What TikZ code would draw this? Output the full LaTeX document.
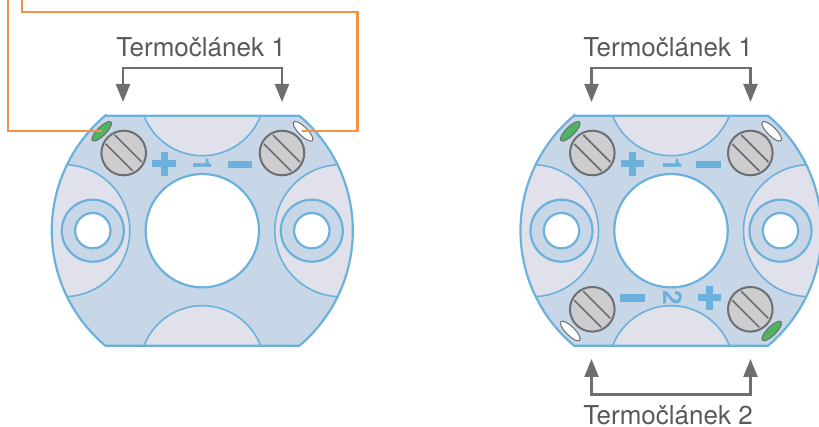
\documentclass[tikz,border=0pt]{standalone}
\usepackage{fontspec}
\setmainfont{TeX Gyre Heros}
\usetikzlibrary{arrows.meta}
\definecolor{modra}{RGB}{108,176,220}
\definecolor{deska}{RGB}{199,215,232}
\definecolor{vyrez}{RGB}{224,225,234}
\definecolor{sroub}{RGB}{205,205,207}
\definecolor{seda}{RGB}{109,110,113}
\definecolor{popis}{RGB}{88,89,91}
\definecolor{oranz}{RGB}{243,146,72}
\definecolor{zelena}{RGB}{77,181,96}
\tikzset{
  obrys/.style={draw=modra, line width=2.2pt},
  tenky/.style={draw=modra, line width=1.6pt},
  vodic/.style={draw=oranz, line width=2.4pt},
  sipka/.style={draw=seda, line width=2.4pt, {Triangle[length=18pt,width=14pt]}-{Triangle[length=18pt,width=14pt]}},
  popisek/.style={text=popis, font=\fontsize{26}{28}\selectfont, inner sep=0pt},
  znak/.style={text=modra, font=\fontsize{26}{28}\selectfont\bfseries, inner sep=0pt, rotate=-90},
  barznak/.style={fill=modra, draw=none},
  otvor/.style={draw=seda, line width=1pt},
  pics/deska/.style={code={
    \begin{scope}
      \clip (-97,-115) -- (97,-115) arc[start angle=-49.9,end angle=49.9,radius=150.4]
        -- (-97,115) arc[start angle=130.1,end angle=229.9,radius=150.4] -- cycle;
      \fill[deska] (-160,-160) rectangle (160,160);
      % vyrezy
      \draw[tenky, fill=vyrez] (0,-137.5) circle[radius=62.5];
      \draw[tenky, fill=vyrez] (0,137.5) circle[radius=62.5];
      \draw[tenky, fill=vyrez] (-138.5,0) circle[radius=66];
      \draw[tenky, fill=vyrez] (138.5,0) circle[radius=66];
    \end{scope}
    \draw[obrys] (-97,-115) -- (97,-115) arc[start angle=-49.9,end angle=49.9,radius=150.4]
      -- (-97,115) arc[start angle=130.1,end angle=229.9,radius=150.4] -- cycle;
    \draw[obrys, fill=white] (0,0) circle[radius=56.7];
    \foreach \x in {-109.5,109.5} {
      \draw[obrys, fill=deska] (\x,0) circle[radius=31];
      \draw[obrys, fill=white] (\x,0) circle[radius=17.7];
    }
  }},
  pics/sroub/.style={code={
    \draw[seda, line width=2pt, fill=sroub] (0,0) circle[radius=22.3];
    \draw[seda, line width=1.7pt] (-18,-9) -- (9,18);
    \draw[seda, line width=1.7pt] (-9,-18) -- (18,9);
  }},
  pics/plus/.style={code={
    \fill[barznak] (-11.7,-3.5) rectangle (11.7,3.5);
    \fill[barznak] (-3.5,-11.7) rectangle (3.5,11.7);
  }},
  pics/minus/.style={code={
    \fill[barznak] (-12.2,-3.8) rectangle (12.2,3.8);
  }},
}
\begin{document}
\begin{tikzpicture}[x=1pt,y=-1pt]
    \useasboundingbox (0,0) rectangle (819,427);

    % leva deska
    \pic at (202.3,230.7) {deska};
    \pic at (123.7,153) {sroub};
    \pic at (282,153) {sroub};
    \pic at (164,164) {plus};
    \pic at (240,164.5) {minus};
    \node[znak] (cislo1) at (203,164.5) {1};
    \draw[otvor, fill=zelena] (101.7,131.3) ellipse[x radius=13.2, y radius=4.4, rotate=45];
    \draw[otvor, fill=white] (303,131.3) ellipse[x radius=13.2, y radius=4.4, rotate=-45];

    % vodice
    \coordinate (zelenyvodic) at (101.7,131);
    \coordinate (bilyvodic) at (301.7,131);
    \draw[vodic] (8,0) |- (zelenyvodic);
    \draw[vodic] (22,0) |- (357.3,12) |- (bilyvodic);

    % prava deska
    \pic at (671,230.7) {deska};
    \foreach \sx in {592.3,750.3} {
      \pic at (\sx,153) {sroub};
      \pic at (\sx,309.3) {sroub};
    }
    \pic at (632.5,164) {plus};
    \pic at (708.5,164.5) {minus};
    \pic at (709.5,298) {plus};
    \pic at (632.5,298) {minus};
    \node[znak] (cislo1b) at (672.5,164.5) {1};
    \node[znak] (cislo2) at (672.5,298) {2};
    \draw[otvor, fill=zelena] (570.3,131.3) ellipse[x radius=13.2, y radius=4.4, rotate=45];
    \draw[otvor, fill=white] (771.7,131.3) ellipse[x radius=13.2, y radius=4.4, rotate=-45];
    \draw[otvor, fill=white] (570.3,331) ellipse[x radius=13.2, y radius=4.4, rotate=-45];
    \draw[otvor, fill=zelena] (771.7,331) ellipse[x radius=13.2, y radius=4.4, rotate=45];

    % popisky a sipky
    \node[popisek] (t1) at (201,47) {Termočlánek 1};
    \node[popisek] (t1b) at (668,47) {Termočlánek 1};
    \node[popisek] (t2) at (668,415) {Termočlánek 2};
    \coordinate (a1) at (123,102);
    \coordinate (a2) at (282,102);
    \coordinate (b1) at (591.5,102);
    \coordinate (b2) at (750.5,102);
    \coordinate (c1) at (591.5,359);
    \coordinate (c2) at (750.5,359);
    \draw[sipka] (a1) -- ++(0,-33.7) -| (a2);
    \draw[sipka] (b1) -- ++(0,-33.7) -| (b2);
    \draw[sipka] (c1) -- ++(0,35.3) -| (c2);
\end{tikzpicture}
\end{document}
